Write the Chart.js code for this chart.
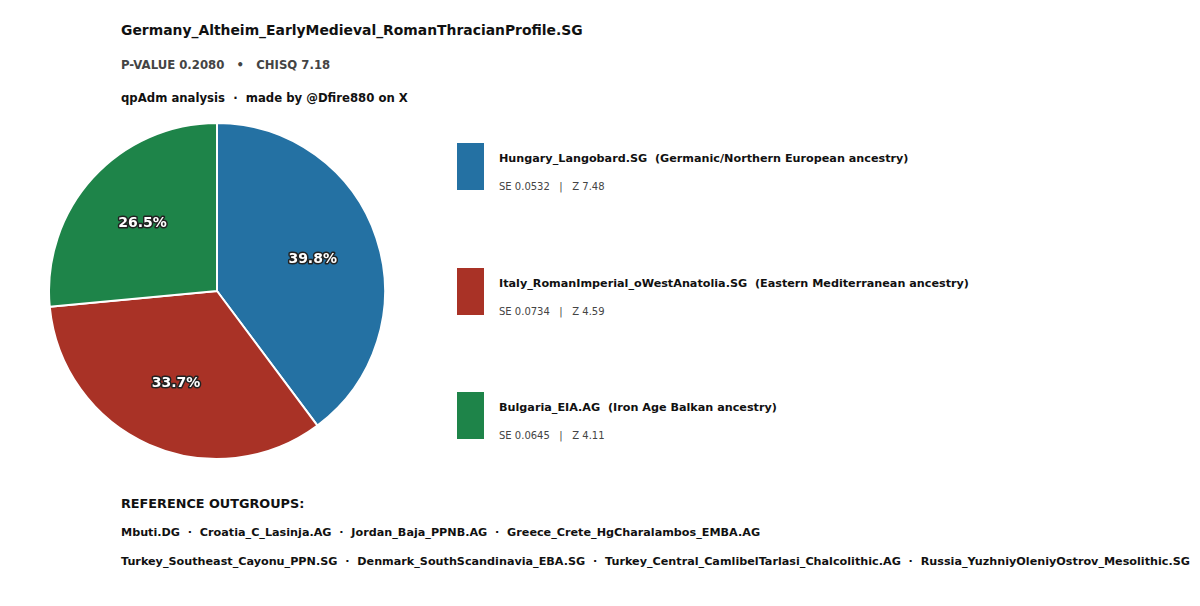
<!DOCTYPE html>
<html>
<head>
<meta charset="utf-8">
<script src="https://cdn.jsdelivr.net/npm/chart.js@4.4.1/dist/chart.umd.min.js"></script>
<style>
  html, body { margin: 0; padding: 0; background: #fff; }
  body { width: 1200px; height: 606px; position: relative; overflow: hidden;
         font-family: "DejaVu Sans", sans-serif; color: #111; }
  .abs { position: absolute; white-space: nowrap; }
  #title { left: 121px; top: 22px; font-size: 13.9px; font-weight: bold; }
  #stats { left: 121px; top: 58px; font-size: 11.7px; font-weight: bold; color: #444; }
  #credit { left: 121px; top: 91px; font-size: 11.7px; font-weight: bold; }
  #pieBox { left: 48px; top: 122px; width: 338px; height: 338px; }
  .swatch { position: absolute; width: 27px; height: 47px; }
  .lname { font-size: 11.2px; font-weight: bold; }
  .lstat { font-size: 10px; color: #444; }
  #outHead { left: 121px; top: 496px; font-size: 12.8px; font-weight: bold; }
  .outLine { font-size: 11.2px; font-weight: bold; }
</style>
</head>
<body>
<div id="title" class="abs">Germany_Altheim_EarlyMedieval_RomanThracianProfile.SG</div>
<div id="stats" class="abs">P-VALUE 0.2080 &nbsp;&nbsp;•&nbsp;&nbsp; CHISQ 7.18</div>
<div id="credit" class="abs">qpAdm analysis &nbsp;·&nbsp; made by @Dfire880 on X</div>
<div id="pieBox" class="abs"><canvas id="pie" width="338" height="338"></canvas></div>
<div id="legend"></div>
<div id="outHead" class="abs">REFERENCE OUTGROUPS:</div>
<div id="outgroups"></div>

<script>
const sources = ["Hungary_Langobard.SG", "Italy_RomanImperial_oWestAnatolia.SG", "Bulgaria_EIA.AG"];
const ancestry = ["Germanic/Northern European ancestry", "Eastern Mediterranean ancestry", "Iron Age Balkan ancestry"];
const weights = [39.8, 33.7, 26.5];
const stdErrors = ["0.0532", "0.0734", "0.0645"];
const zScores = ["7.48", "4.59", "4.11"];
const colors = ["#2471a3", "#a93226", "#1e8449"];
const outgroupLines = [
  ["Mbuti.DG", "Croatia_C_Lasinja.AG", "Jordan_Baja_PPNB.AG", "Greece_Crete_HgCharalambos_EMBA.AG"],
  ["Turkey_Southeast_Cayonu_PPN.SG", "Denmark_SouthScandinavia_EBA.SG", "Turkey_Central_CamlibelTarlasi_Chalcolithic.AG", "Russia_YuzhniyOleniyOstrov_Mesolithic.SG"],
];

// legend blocks
const legend = document.getElementById("legend");
sources.forEach((name, i) => {
  const top = 143 + i * 124.5;
  const sw = document.createElement("div");
  sw.className = "swatch";
  sw.style.left = "457px";
  sw.style.top = top + "px";
  sw.style.background = colors[i];
  legend.appendChild(sw);

  const nm = document.createElement("div");
  nm.className = "abs lname";
  nm.style.left = "499px";
  nm.style.top = (top + 9) + "px";
  nm.textContent = name + "  (" + ancestry[i] + ")";
  nm.style.whiteSpace = "pre";
  legend.appendChild(nm);

  const st = document.createElement("div");
  st.className = "abs lstat";
  st.style.left = "499px";
  st.style.top = (top + 38) + "px";
  st.style.whiteSpace = "pre";
  st.textContent = "SE " + stdErrors[i] + "   |   Z " + zScores[i];
  legend.appendChild(st);
});

const outBox = document.getElementById("outgroups");
outgroupLines.forEach((groups, i) => {
  const d = document.createElement("div");
  d.className = "abs outLine";
  d.style.left = "121px";
  d.style.top = (526 + i * 29) + "px";
  d.style.whiteSpace = "pre";
  d.textContent = groups.join("  ·  ");
  outBox.appendChild(d);
});

const sliceLabels = {
  id: "sliceLabels",
  afterDatasetsDraw(chart) {
    const ctx = chart.ctx;
    const meta = chart.getDatasetMeta(0);
    ctx.save();
    ctx.font = "bold 14px 'DejaVu Sans'";
    ctx.textAlign = "center";
    ctx.textBaseline = "middle";
    ctx.lineJoin = "round";
    meta.data.forEach((arc, i) => {
      const mid = (arc.startAngle + arc.endAngle) / 2;
      const r = arc.outerRadius * 0.6;
      const x = arc.x + Math.cos(mid) * r;
      const y = arc.y + Math.sin(mid) * r;
      const txt = weights[i].toFixed(1) + "%";
      ctx.lineWidth = 3;
      ctx.strokeStyle = "#222";
      ctx.strokeText(txt, x, y);
      ctx.fillStyle = "#fff";
      ctx.fillText(txt, x, y);
    });
    ctx.restore();
  },
};

new Chart(document.getElementById("pie").getContext("2d"), {
  type: "pie",
  data: {
    labels: sources,
    datasets: [
      {
        data: weights,
        backgroundColor: colors,
        borderColor: "#fff",
        borderWidth: 2,
      },
    ],
  },
  options: {
    responsive: false,
    animation: false,
    layout: { padding: 0 },
    plugins: {
      legend: { display: false },
      tooltip: { enabled: false },
    },
  },
  plugins: [sliceLabels],
});
</script>
</body>
</html>
